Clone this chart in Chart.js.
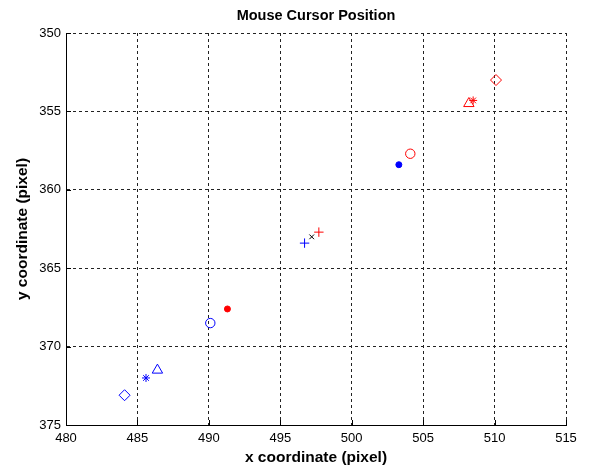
<!DOCTYPE html>
<html>
<head>
<meta charset="utf-8">
<script src="https://cdn.jsdelivr.net/npm/chart.js@4.4.1/dist/chart.umd.min.js"></script>
<style>
  html, body { margin: 0; padding: 0; background: #fff; }
  #wrap { width: 591px; height: 470px; }
</style>
</head>
<body>
<div id="wrap"><canvas id="c" width="591" height="470"></canvas></div>
<script>
// ---- data ----
const titleText = 'Mouse Cursor Position';
const xTitle = 'x coordinate (pixel)';
const yTitle = 'y coordinate (pixel)';
const xTicks = [480, 485, 490, 495, 500, 505, 510, 515];
const yTicks = [350, 355, 360, 365, 370, 375];

// marker names, one per pair of points
const markerNames = ['diamond', 'asterisk', 'triangle', 'circle', 'plus', 'dot'];
// blue series
const blueX = [484.1, 485.6, 486.4, 490.1, 496.7, 503.3];
const blueY = [373.1, 372.0, 371.5, 368.5, 363.4, 358.4];
// red series
const redX = [510.1, 508.5, 508.2, 504.1, 497.7, 491.3];
const redY = [353.0, 354.3, 354.5, 357.7, 362.7, 367.6];
// black cross
const blackX = [497.2];
const blackY = [363.0];

// ---- styles ----
const markerStyle = {
  diamond:  { pointStyle: 'rectRot',  radius: 5.5, fill: false },
  asterisk: { pointStyle: 'star',     radius: 4,   fill: false },
  triangle: { pointStyle: 'triangle', radius: 6,   fill: false },
  circle:   { pointStyle: 'circle',   radius: 4.7, fill: false },
  plus:     { pointStyle: 'cross',    radius: 4.7, fill: false },
  dot:      { pointStyle: 'circle',   radius: 3,   fill: true }
};
const BLUE = '#0000ff';
const RED = '#ff0000';

function makeDataset(label, x, y, i, color) {
  const st = markerStyle[markerNames[i]];
  return {
    label: label,
    data: [{ x: x[i], y: y[i] }],
    showLine: false,
    pointStyle: st.pointStyle,
    pointRadius: st.radius,
    pointBorderWidth: 1,
    pointBorderColor: color,
    pointBackgroundColor: st.fill ? color : 'rgba(0,0,0,0)',
    clip: false
  };
}

const datasets = [];
markerNames.forEach((m, i) => {
  datasets.push(makeDataset('blue ' + m, blueX, blueY, i, BLUE));
  datasets.push(makeDataset('red ' + m, redX, redY, i, RED));
});
datasets.push({
  label: 'black x',
  data: blackX.map((v, i) => ({ x: v, y: blackY[i] })),
  showLine: false,
  pointStyle: 'crossRot',
  pointRadius: 3.3,
  pointBorderWidth: 1,
  pointBorderColor: '#000',
  clip: false
});

const FONT = 'Arial, "Liberation Sans", Helvetica, sans-serif';

// inward tick marks on bottom and left axes (MATLAB style)
const inwardTicks = {
  id: 'inwardTicks',
  afterDraw(chart) {
    const ctx = chart.ctx;
    const xs = chart.scales.x, ys = chart.scales.y;
    const a = chart.chartArea;
    ctx.save();
    ctx.strokeStyle = '#000';
    ctx.lineWidth = 1;
    ctx.beginPath();
    xTicks.forEach(v => {
      const px = Math.round(xs.getPixelForValue(v)) + 0.5;
      ctx.moveTo(px, a.bottom);
      ctx.lineTo(px, a.bottom - 5);
    });
    yTicks.forEach(v => {
      const py = Math.round(ys.getPixelForValue(v)) + 0.5;
      ctx.moveTo(a.left, py);
      ctx.lineTo(a.left + 5, py);
    });
    ctx.stroke();
    ctx.restore();
  }
};

new Chart(document.getElementById('c'), {
  type: 'scatter',
  data: { datasets },
  plugins: [inwardTicks],
  options: {
    responsive: false,
    animation: false,
    events: [],
    layout: { padding: { left: 0, right: 25, top: 0, bottom: 0 } },
    plugins: {
      legend: { display: false },
      tooltip: { enabled: false },
      title: {
        display: true,
        fullSize: false,
        text: titleText,
        color: '#000',
        font: { family: FONT, size: 14.5, weight: 'bold' },
        padding: { top: 7, bottom: 8.6 }
      }
    },
    scales: {
      x: {
        type: 'linear',
        min: xTicks[0],
        max: xTicks[xTicks.length - 1],
        afterBuildTicks(scale) { scale.ticks = xTicks.map(v => ({ value: v })); },
        afterFit(scale) { scale.height = 45; },
        ticks: {
          color: '#000',
          font: { family: FONT, size: 13 },
          padding: 6,
          maxRotation: 0,
          autoSkip: false
        },
        grid: {
          color: '#222',
          lineWidth: 1,
          drawTicks: false,
          tickLength: 0
        },
        border: { display: true, color: '#000', width: 1, dash: [3, 3] },
        title: {
          display: true,
          text: xTitle,
          color: '#000',
          font: { family: FONT, size: 15.5, weight: 'bold' },
          padding: { top: 0, bottom: 3 }
        }
      },
      y: {
        type: 'linear',
        reverse: true,
        min: yTicks[0],
        max: yTicks[yTicks.length - 1],
        afterBuildTicks(scale) { scale.ticks = yTicks.map(v => ({ value: v })); },
        afterFit(scale) { scale.width = 66; },
        ticks: {
          color: '#000',
          font: { family: FONT, size: 13 },
          padding: 5,
          autoSkip: false
        },
        grid: {
          color: '#222',
          lineWidth: 1,
          drawTicks: false,
          tickLength: 0
        },
        border: { display: true, color: '#000', width: 1, dash: [3, 3] },
        title: {
          display: true,
          text: yTitle,
          color: '#000',
          font: { family: FONT, size: 15.5, weight: 'bold' },
          padding: { top: 13, bottom: 0 }
        }
      }
    }
  }
});
</script>
</body>
</html>
